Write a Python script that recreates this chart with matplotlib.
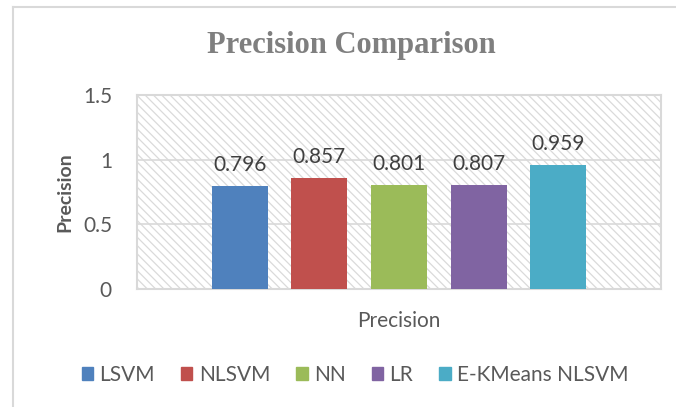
import numpy as np
import matplotlib.pyplot as plt
from matplotlib.patches import Rectangle
from matplotlib.lines import Line2D

# data
models = ['LSVM', 'NLSVM', 'NN', 'LR', 'E-KMeans NLSVM']
precision = [0.796, 0.857, 0.801, 0.807, 0.959]
colors = ['#4F81BD', '#C0504D', '#9BBB59', '#8064A2', '#4BACC6']
yticks = [0, 0.5, 1, 1.5]
yticklabels = ['0', '0.5', '1', '1.5']

plt.rcParams['font.family'] = ['Lato', 'DejaVu Sans']
plt.rcParams['hatch.linewidth'] = 0.9

fig = plt.figure(figsize=(6.76, 4.07), dpi=100)
ax = fig.add_axes([137 / 676, 1 - 289 / 407, 524 / 676, 194 / 407])

# hatched plot area background
ax.patch.set_facecolor('white')
ax.add_patch(Rectangle((0, 0), 1, 1, transform=ax.transAxes, facecolor='white',
                       edgecolor='#dadada', hatch='\\\\\\\\', lw=0, zorder=0))

x = np.arange(len(models))
bars = ax.bar(x, precision, width=0.7, color=colors, zorder=3)
for xi, v in zip(x, precision):
    ax.text(xi, v + 0.085, f'{v:.3f}', ha='center', va='bottom',
            fontsize=15, color='#404040', zorder=4)

ax.set_xlim(-1.29, len(models) - 1 + 1.29)
ax.set_ylim(0, 1.5)
ax.set_yticks(yticks)
ax.set_yticklabels(yticklabels)
ax.set_xticks([])
ax.tick_params(axis='y', length=0, pad=18, labelsize=15, labelcolor='#595959')
ax.grid(axis='y', color='#d9d9d9', linewidth=1.2, zorder=1)
ax.set_axisbelow(True)
for s in ax.spines.values():
    s.set_color('#d9d9d9')
    s.set_linewidth(1.5)

ax.set_ylabel('Precision', fontsize=14, fontweight='bold', color='#595959', labelpad=7)
ax.set_xlabel('Precision', fontsize=15, color='#595959', labelpad=16)

fig.text(351 / 676, 1 - 46 / 407, 'Precision Comparison', ha='center', va='center',
         fontsize=22, fontweight='bold', color='#7f7f7f', family='Liberation Serif')

handles = [Rectangle((0, 0), 1, 1, color=c) for c in colors]
fig.legend(handles, models, loc='center', bbox_to_anchor=(355 / 676, 1 - 375 / 407),
           ncol=5, frameon=False, fontsize=15, handlelength=0.55, handleheight=0.55,
           columnspacing=1.25, handletextpad=0.3, labelcolor='#595959')

# chart area border
fig.add_artist(Line2D([13 / 676, 13 / 676], [0, 1 - 7 / 407], color='#d9d9d9', lw=1.5))
fig.add_artist(Line2D([13 / 676, 1], [1 - 7 / 407, 1 - 7 / 407], color='#d9d9d9', lw=1.5))

fig.savefig('out.png', dpi=100)
